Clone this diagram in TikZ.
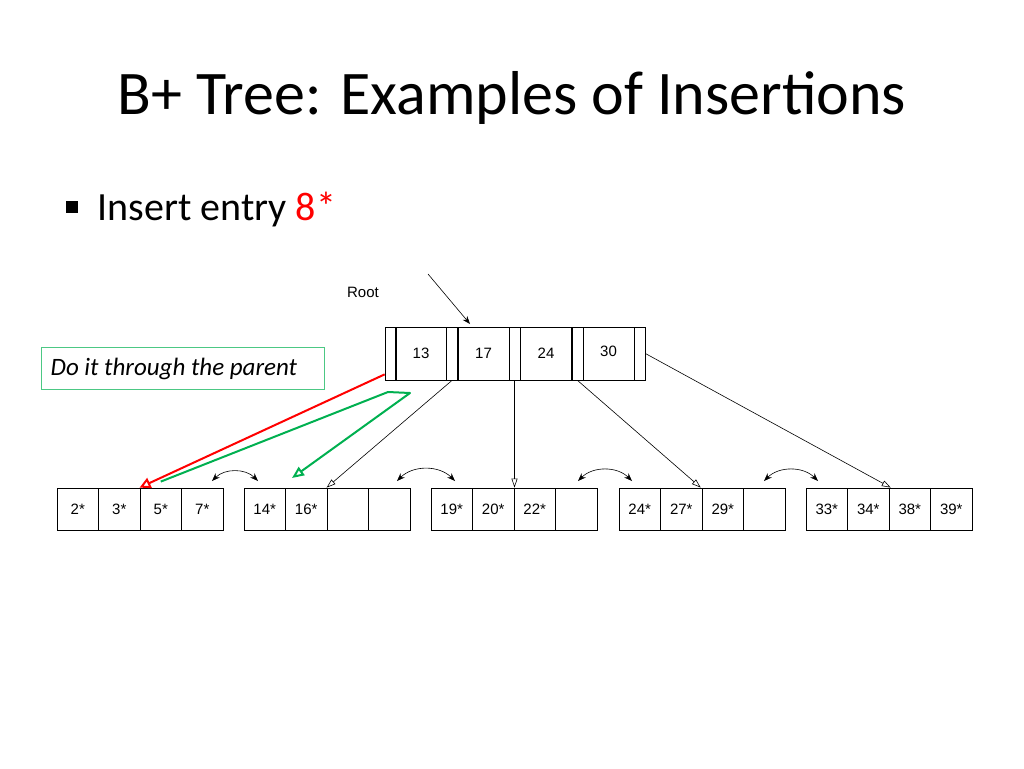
\documentclass[tikz,border=0pt]{standalone}
\usepackage{fontspec}
\setmainfont{Carlito}
\newfontfamily\arialf{Liberation Sans}
\usetikzlibrary{arrows.meta}
\definecolor{gr}{HTML}{00B050}
\begin{document}
\begin{tikzpicture}[x=1pt,y=-1pt,semithick,
  cell/.style={draw,thick,minimum width=41.5pt,minimum height=42pt,inner sep=0pt,font=\arialf\fontsize{15}{15}\selectfont},
  kcell/.style={draw,thick,minimum width=51pt,minimum height=53pt,inner sep=0pt,font=\arialf\fontsize{15}{15}\selectfont},
  pcell/.style={draw,thick,minimum width=11pt,minimum height=53pt,inner sep=0pt},
  ptr/.style={-{Triangle[open,length=9pt,width=6pt]}},
  sib/.style={{Stealth[length=8pt]}-{Stealth[length=8pt]}}]
\useasboundingbox (0,0) rectangle (1024,768);
\node (title) at (512,98) {\fontsize{62}{62}\selectfont B+ Tree: Examples of Insertions};
\fill (66,201) rectangle (78,213);
\node[anchor=west] (ins) at (94,210) {\fontsize{40}{40}\selectfont Insert entry \textcolor{red}{8*}};
\node (rootlbl) at (363,292) {\arialf\fontsize{15}{15}\selectfont Root};
\node[draw=gr!70,thick,minimum width=283pt,minimum height=42pt] (note) at (182.5,368) {};
\node[anchor=west,font=\itshape\fontsize{25}{25}\selectfont] (notet) at (47,369) {Do it through the parent};
% root
\node[pcell] (p0) at (390.5,353.5) {};
\node[kcell] (k1) at (421,353.5) {13};
\node[pcell] (p1) at (452,353.5) {};
\node[kcell] (k2) at (483.5,353.5) {17};
\node[pcell] (p2) at (514.5,353.5) {};
\node[kcell] (k3) at (546,353.5) {24};
\node[pcell] (p3) at (577.5,353.5) {};
\node[kcell] (k4) at (608.5,353.5) {\raisebox{5pt}{30}};
\node[pcell] (p4) at (639.5,353.5) {};
\coordinate (rin) at (428,274);
\draw[-{Stealth[length=8pt]}] (rin) -- (470,324);
% leaves
\foreach \lx/\a/\b/\c/\d [count=\i] in {57/2*/3*/5*/7*, 244/14*/16*//, 431/19*/20*/22*/, 619/24*/27*/29*/, 806/33*/34*/38*/39*}{
  \node[cell] (l\i a) at (\lx+20.75,509) {\a};
  \node[cell] (l\i b) at (\lx+62.25,509) {\b};
  \node[cell] (l\i c) at (\lx+103.75,509) {\c};
  \node[cell] (l\i d) at (\lx+145.25,509) {\d};
}
% pointers
\draw[ptr] (p1.south) -- (l2c.north west);
\draw[ptr] (p2.south) -- (p2.south |- l3c.north);
\draw[ptr] (p3.south) -- ([xshift=-22pt]l4c.north);
\draw[ptr] (p4.east) -- ([xshift=-19pt]l5c.north);
% siblings
\draw[sib] (212,481) to[bend left=45] (258,481);
\draw[sib] (397,481) to[bend left=45] (455,481);
\draw[sib] (578,481) to[bend left=45] (632,481);
\draw[sib] (764,481) to[bend left=45] (818,481);
% red and green
\draw[red,line width=2pt,-{Triangle[open,length=11pt,width=11pt]}] (p0.south west) ++(0,-6) -- (l1c.north west);
\coordinate (g1) at (388,392);
\coordinate (g2) at (410,393);
\draw[gr,line width=2pt,line join=round,-{Stealth[length=12pt,width=10pt,inset=0pt,open]}] (l1c.north) ++(0,-6) -- (g1) -- (g2) -- (292,478);
\end{tikzpicture}
\end{document}
